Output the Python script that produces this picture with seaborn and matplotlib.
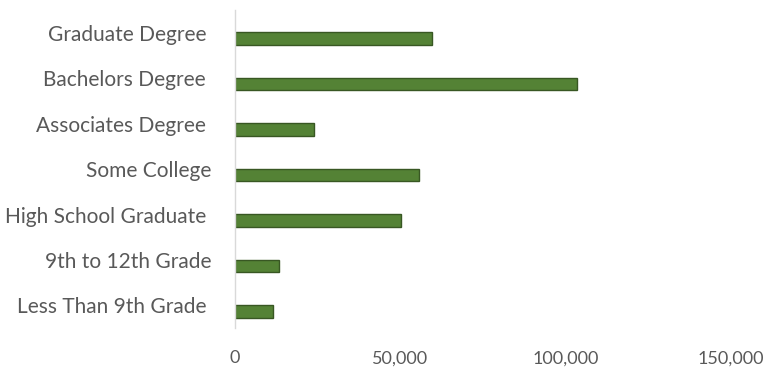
import numpy as np
import pandas as pd
import matplotlib
matplotlib.use('Agg')
import matplotlib.pyplot as plt
import seaborn as sns
from matplotlib.ticker import FuncFormatter

sns.set_theme(style='white')
plt.rcParams['font.family'] = ['Lato', 'DejaVu Sans']

# ========== 数据 ==========
categories = ['Graduate Degree ', 'Bachelors Degree ', 'Associates Degree ', 'Some College',
              'High School Graduate ', '9th to 12th Grade', 'Less Than 9th Grade ']
values = [59700, 103300, 23900, 55600, 50200, 13300, 11500]
x_ticks = [0, 50000, 100000, 150000]

df = pd.DataFrame({'education': categories, 'count': values})

text_color = '#595959'
shift = 0.13  # 条形相对类别中心下移

fig = plt.figure(figsize=(7.69, 3.70), dpi=100)
ax = fig.add_axes([0.3056, 0.113, 0.9506 - 0.3056, 0.86])

sns.barplot(data=df, x='count', y='education', order=categories, orient='h',
            color='#548235', saturation=1, width=0.28, edgecolor='#385723',
            linewidth=1.0, ax=ax)

n = len(categories)
for p in ax.patches:
    p.set_y(p.get_y() + shift)
ax.set_ylim(n - 0.5, -0.5)
ax.set_yticks(np.arange(n), labels=categories)

ax.set_xlim(0, 150000)
ax.set_xticks(x_ticks)
ax.xaxis.set_major_formatter(FuncFormatter(lambda v, _: f'{int(v):,}'))
ax.set_xlabel('')
ax.set_ylabel('')

for s in ['top', 'right', 'bottom']:
    ax.spines[s].set_visible(False)
ax.spines['left'].set_color('#d9d9d9')
ax.spines['left'].set_linewidth(1.0)

ax.tick_params(axis='both', length=0, colors=text_color)
ax.tick_params(axis='y', pad=17, labelsize=15)
ax.tick_params(axis='x', pad=16, labelsize=13)

plt.savefig('out.png', dpi=100)
